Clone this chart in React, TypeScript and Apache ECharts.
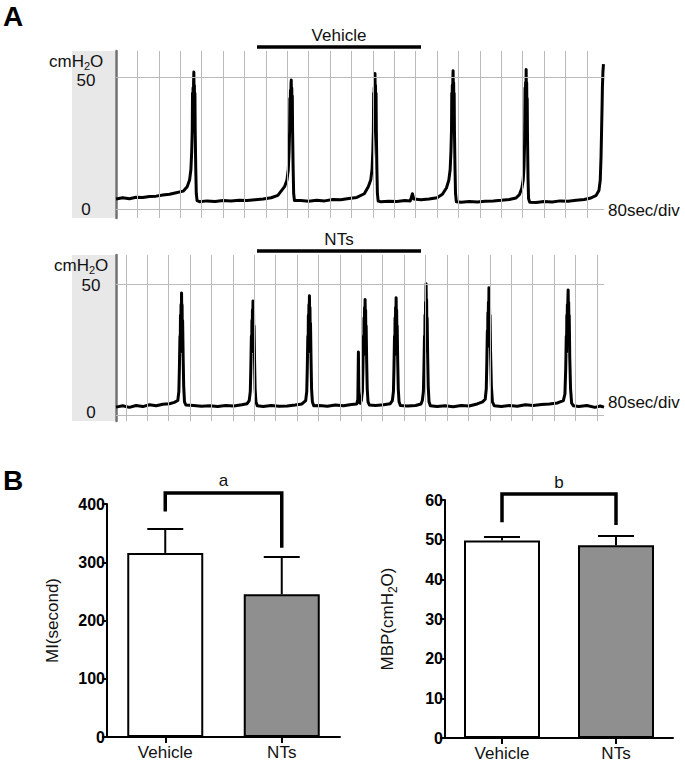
import React, { useEffect, useRef } from 'react';
import * as echarts from 'echarts';

const FONT = '"Liberation Sans", Arial, Helvetica, sans-serif';

// ---------- Panel A: cystometry traces (time in s, pressure in cmH2O) ----------
const vehicleTrace: [number, number][] = [
  [0, 3.8], [25, 4.3], [50, 3.9], [75, 4.5], [100, 4.4], [125, 4.8], [150, 4.9], [175, 5.3], [200, 5.6], [225, 6.2], [251, 6.8], [266, 8.5], [275, 11], [280, 15], [283, 22], [285, 30], [286, 44], [287, 32], [288, 46], [289, 35], [290, 48], [291, 52], [292, 42], [293, 47], [294, 36], [295, 44], [296, 30], [298, 16], [300, 6], [303, 3.2], [312, 2.8],
  [340, 3.1], [370, 2.9], [400, 3.2], [430, 3.1], [460, 3.3], [490, 3.2], [520, 3.5], [550, 3.8], [580, 4.3], [605, 5.2], [615, 6.5], [630, 8.5], [639, 11], [644, 15], [647, 22], [649, 30], [650, 42], [651, 32], [652, 45], [653, 35], [654, 47], [655, 49], [656, 41], [657, 46], [658, 35], [659, 43], [660, 30], [662, 16], [664, 6], [667, 3.2],
  [690, 3.2], [720, 3], [750, 3.3], [780, 3.1], [810, 3.6], [840, 3.5], [870, 4], [900, 4.4], [928, 5.8], [943, 8.5], [952, 11], [957, 15], [960, 22], [962, 30], [963, 44], [964, 32], [965, 46], [966, 35], [967, 48], [968, 51.5], [969, 42], [970, 47], [971, 36], [972, 44], [973, 30], [975, 16], [977, 6], [980, 3],
  [990, 2.8], [1020, 3], [1050, 2.9], [1080, 3.2], [1100, 3.1], [1108, 5.8], [1113, 3.8], [1140, 3.5], [1170, 3.8], [1200, 4.3], [1220, 5.6], [1235, 8], [1244, 11], [1249, 15], [1252, 22], [1254, 30], [1255, 44], [1256, 33], [1257, 47], [1258, 36], [1259, 49], [1260, 52.5], [1261, 43], [1262, 48], [1263, 36], [1264, 44], [1265, 30], [1267, 16], [1269, 6], [1272, 2.8],
  [1290, 2.6], [1320, 2.9], [1350, 2.7], [1380, 3], [1410, 3.1], [1440, 3.3], [1470, 3.6], [1495, 4.2], [1508, 5.5], [1517, 8], [1522, 11], [1525, 16], [1527, 24], [1528, 34], [1529, 46], [1530, 35], [1531, 48], [1532, 38], [1533, 53], [1534, 43], [1535, 48], [1536, 36], [1537, 42], [1538, 28], [1540, 12], [1542, 4], [1546, 2.6],
  [1570, 2.5], [1600, 2.9], [1630, 2.7], [1660, 3.1], [1690, 3], [1720, 3.3], [1750, 3.6], [1775, 4.2], [1795, 5.2], [1805, 7], [1810, 11], [1813, 20], [1815, 30], [1817, 40], [1818, 46], [1820, 52], [1822, 55],
];

const ntsTrace: [number, number][] = [
  [0, 3], [25, 3.5], [50, 2.9], [75, 3.6], [100, 3.2], [125, 3.9], [150, 3.5], [175, 4.1], [200, 4.3], [218, 4.8], [231, 5.5], [235, 9], [237, 18], [239, 30], [240, 24], [241, 38], [242, 28], [243, 42], [244, 34], [245, 46.5], [246, 38], [247, 42], [248, 30], [249, 36], [251, 22], [253, 11], [256, 5], [261, 3.8],
  [290, 3.6], [320, 3.3], [350, 3.5], [380, 3.2], [410, 3.6], [440, 3.4], [470, 3.9], [490, 4.3], [498, 5.5], [502, 9], [504, 18], [506, 30], [507, 24], [508, 36], [509, 28], [510, 40], [511, 33], [512, 43.5], [513, 36], [514, 40], [515, 29], [516, 34], [518, 20], [520, 10], [523, 5], [528, 3.5],
  [550, 3.2], [580, 3.6], [610, 3.3], [640, 3.4], [670, 3.8], [695, 4.2], [709, 5.5], [713, 9], [715, 18], [717, 30], [718, 24], [719, 38], [720, 28], [721, 42], [722, 34], [723, 45.5], [724, 37], [725, 41], [726, 29], [727, 35], [729, 21], [731, 10], [734, 5], [739, 3.5],
  [760, 3.6], [790, 3.3], [820, 3.8], [850, 3.5], [880, 4], [900, 4.2], [904, 6], [906, 24], [908, 5], [913, 4.5], [917, 5.5], [921, 9], [923, 18], [925, 30], [926, 23], [927, 37], [928, 28], [929, 41], [930, 33], [931, 44], [932, 36], [933, 40], [934, 28], [935, 34], [937, 20], [939, 10], [942, 5], [947, 3.8],
  [970, 3.6], [1000, 3.9], [1025, 4.3], [1033, 5.5], [1037, 9], [1039, 18], [1041, 30], [1042, 23], [1043, 37], [1044, 28], [1045, 41], [1046, 34], [1047, 44.7], [1048, 36], [1049, 40], [1050, 28], [1051, 34], [1053, 20], [1055, 10], [1058, 5], [1063, 3.6],
  [1090, 3.4], [1120, 3.6], [1140, 4.2], [1145, 5.5], [1149, 9], [1151, 18], [1153, 30], [1154, 24], [1155, 38], [1156, 30], [1157, 43], [1158, 36], [1159, 50], [1160, 40], [1161, 44], [1162, 31], [1163, 37], [1165, 22], [1167, 11], [1170, 5], [1175, 3.5],
  [1200, 3.2], [1230, 3.5], [1260, 3.1], [1290, 3.6], [1320, 3.4], [1350, 4.2], [1370, 5], [1380, 6], [1384, 10], [1386, 20], [1388, 32], [1389, 26], [1390, 39], [1391, 30], [1392, 43], [1393, 36], [1394, 48.5], [1395, 40], [1396, 43], [1397, 32], [1398, 38], [1400, 24], [1403, 11], [1407, 5], [1414, 3.5],
  [1440, 3.2], [1470, 3.6], [1500, 3.3], [1530, 3.9], [1560, 3.6], [1590, 4], [1620, 4.2], [1650, 4.6], [1672, 5.5], [1678, 8], [1681, 18], [1683, 30], [1684, 24], [1685, 38], [1686, 30], [1687, 42], [1688, 36], [1689, 44], [1690, 47.7], [1691, 40], [1692, 43], [1693, 32], [1694, 38], [1696, 22], [1699, 10], [1703, 4.5], [1710, 3.5],
  [1730, 3.2], [1760, 3.6], [1790, 2.9], [1810, 3.4], [1824, 3],
];

const traceDivisionOffset = [0, 37]; // s, first vertical division of each trace
const divisionSec = 80;
const traceDuration = 1824;
const pressureTicks = [0, 50];
const treatmentLabels = ['Vehicle', 'NTs'];
const treatmentSpan = [527, 1140]; // s

// ---------- Panel B: bar charts ----------
const barCategories = ['Vehicle', 'NTs'];
const miMean = [316, 245];
const miErrTop = [357, 309];
const mbpMean = [49.8, 48.6];
const mbpErrTop = [50.7, 50.9];
const miBracket = [387, 419, 325]; // left leg end, top, right leg end
const mbpBracket = [54.4, 61.5, 53.7];
const sigLabels = ['a', 'b'];
const barFills = ['#ffffff', '#8f8f8f'];

const TRACE_GRIDS = [
  { left: 116, top: 51, width: 488, height: 167, yMin: -3.4, yMax: 60, labelX: 86, labelDy: [0.5, 2.8], unitX: 49, divLabelY: 210 },
  { left: 116, top: 255, width: 488, height: 166, yMin: -2.3, yMax: 61, labelX: 91, labelDy: [-2, 1.5], unitX: 54, divLabelY: 402 },
];

function divisionTimes(offset: number): number[] {
  const out: number[] = [];
  for (let t = offset; t <= 1800; t += divisionSec) if (t > 0) out.push(t);
  return out;
}

export default function App() {
  const ref = useRef<HTMLDivElement>(null);

  useEffect(() => {
    if (!ref.current) return;
    const chart = echarts.init(ref.current, undefined, { renderer: 'svg' });

    const traces = [vehicleTrace, ntsTrace];

    const errorRender = (params: any, api: any) => {
      const base = api.coord([api.value(0), api.value(1)]);
      const top = api.coord([api.value(0), api.value(2)]);
      return {
        type: 'group',
        children: [
          { type: 'line', shape: { x1: base[0], y1: base[1], x2: top[0], y2: top[1] }, style: { stroke: '#000', lineWidth: 2 } },
          { type: 'line', shape: { x1: top[0] - 18, y1: top[1], x2: top[0] + 18, y2: top[1] }, style: { stroke: '#000', lineWidth: 2 } },
        ],
      };
    };
    const bracketRender = (label: string) => (params: any, api: any) => {
      const l = api.coord([0, api.value(1)]);
      const tl = api.coord([0, api.value(2)]);
      const tr = api.coord([1, api.value(2)]);
      const r = api.coord([1, api.value(3)]);
      return {
        type: 'group',
        children: [
          {
            type: 'polyline',
            shape: { points: [l, tl, tr, r] },
            style: { stroke: '#000', lineWidth: 3.5, fill: 'none', lineJoin: 'miter' },
          },
          {
            type: 'text',
            x: (tl[0] + tr[0]) / 2,
            y: tl[1] - 12,
            style: { text: label, fill: '#111', fontSize: 17, fontFamily: FONT, align: 'center', verticalAlign: 'middle' },
          },
        ],
      };
    };

    const barXAxis = (gridIndex: number) => ({
      gridIndex,
      type: 'category',
      data: barCategories,
      axisLine: { show: true, lineStyle: { color: '#000', width: 2 } },
      axisTick: { show: true, alignWithLabel: true, length: 6, lineStyle: { color: '#000', width: 2 } },
      axisLabel: { fontSize: 17, color: '#111', margin: 7, fontFamily: FONT },
      splitLine: { show: false },
    });
    const barYAxis = (gridIndex: number, max: number, interval: number, name: string, rich?: any) => ({
      gridIndex,
      type: 'value',
      min: 0,
      max,
      interval,
      axisLine: { show: true, onZero: false, lineStyle: { color: '#000', width: 2 } },
      axisTick: { show: true, length: 5, lineStyle: { color: '#000', width: 2 } },
      axisLabel: { fontSize: 16, fontWeight: 'bold', color: '#000', margin: 2, fontFamily: FONT },
      splitLine: { show: false },
      name,
      nameLocation: 'middle',
      nameGap: 46,
      nameMoveOverlap: false,
      nameTextStyle: { fontSize: 17, color: '#111', fontFamily: FONT, ...(rich ? { rich } : {}) },
    });

    const option: any = {
      animation: false,
      backgroundColor: '#fff',
      textStyle: { fontFamily: FONT },
      grid: [
        ...TRACE_GRIDS.map((g) => ({ left: g.left, top: g.top, width: g.width, height: g.height, outerBoundsMode: 'none' })),
        { left: 107, top: 504, width: 233, height: 233, outerBoundsMode: 'none' },
        { left: 445, top: 500, width: 228, height: 238, outerBoundsMode: 'none' },
      ],
      xAxis: [
        ...TRACE_GRIDS.map((g, i) => ({ gridIndex: i, type: 'value', min: 0, max: traceDuration, show: false, splitLine: { show: false } })),
        barXAxis(2),
        barXAxis(3),
      ],
      yAxis: [
        ...TRACE_GRIDS.map((g, i) => ({
          gridIndex: i,
          type: 'value',
          min: g.yMin,
          max: g.yMax,
          axisLine: { show: true, onZero: false, lineStyle: { color: '#707070', width: 2.5 } },
          axisTick: { show: false },
          splitLine: { show: false },
          axisLabel: { show: false },
        })),
        barYAxis(2, 400, 100, 'MI(second)'),
        barYAxis(3, 60, 10, '{a|MBP(cmH}{s|2}{a|O)}', {
          a: { fontSize: 17, fontFamily: FONT, color: '#111' },
          s: { fontSize: 12, fontFamily: FONT, color: '#111', padding: [12, 0, 0, 0] },
        }),
      ],
      series: [
        ...TRACE_GRIDS.map((g, i) => ({
          type: 'line',
          xAxisIndex: i,
          yAxisIndex: i,
          data: [],
          z: 1,
          silent: true,
          markLine: {
            silent: true,
            symbol: ['none', 'none'],
            label: { show: false },
            lineStyle: { color: '#bababa', width: 1, type: 'solid' },
            emphasis: { disabled: true },
            data: [
              ...divisionTimes(traceDivisionOffset[i]).map((t) => ({ xAxis: t })),
              ...pressureTicks.map((p) => ({ yAxis: p })),
            ],
          },
        })),
        ...traces.map((d, i) => ({
          type: 'line',
          xAxisIndex: i,
          yAxisIndex: i,
          data: d,
          showSymbol: false,
          symbol: 'none',
          z: 3,
          silent: true,
          lineStyle: { color: '#000', width: 3, join: 'round' },
        })),
        {
          type: 'bar',
          xAxisIndex: 2,
          yAxisIndex: 2,
          barWidth: 76,
          data: miMean.map((v, i) => ({ value: v, itemStyle: { color: barFills[i] } })),
          itemStyle: { borderColor: '#000', borderWidth: 2 },
          silent: true,
        },
        {
          type: 'bar',
          xAxisIndex: 3,
          yAxisIndex: 3,
          barWidth: 76,
          data: mbpMean.map((v, i) => ({ value: v, itemStyle: { color: barFills[i] } })),
          itemStyle: { borderColor: '#000', borderWidth: 2 },
          silent: true,
        },
        {
          type: 'custom',
          xAxisIndex: 2,
          yAxisIndex: 2,
          data: miMean.map((m, i) => [i, m, miErrTop[i]]),
          renderItem: errorRender,
          z: 4,
          silent: true,
        },
        {
          type: 'custom',
          xAxisIndex: 3,
          yAxisIndex: 3,
          data: mbpMean.map((m, i) => [i, m, mbpErrTop[i]]),
          renderItem: errorRender,
          z: 4,
          silent: true,
        },
        {
          type: 'custom',
          xAxisIndex: 2,
          yAxisIndex: 2,
          clip: false,
          data: [[0, ...miBracket]],
          renderItem: bracketRender(sigLabels[0]),
          z: 4,
          silent: true,
        },
        {
          type: 'custom',
          xAxisIndex: 3,
          yAxisIndex: 3,
          clip: false,
          data: [[0, ...mbpBracket]],
          renderItem: bracketRender(sigLabels[1]),
          z: 4,
          silent: true,
        },
      ],
    };

    chart.setOption(option);

    // Annotations positioned through the axes' scales
    const graphics: any[] = [
      { type: 'text', x: 3, y: 2, style: { text: 'A', fontSize: 28, fontWeight: 'bold', fontFamily: FONT, fill: '#000' } },
      { type: 'text', x: 3, y: 466, style: { text: 'B', fontSize: 28, fontWeight: 'bold', fontFamily: FONT, fill: '#000' } },
    ];
    const txt = (text: string, x: number, y: number, fontSize: number, align: string) => ({
      type: 'text',
      x,
      y,
      style: { text, fontSize, fontFamily: FONT, fill: '#111', align, verticalAlign: 'middle' },
    });
    TRACE_GRIDS.forEach((g, i) => {
      graphics.push({
        type: 'rect',
        z: -10,
        shape: { x: 72, y: g.top, width: g.left - 73, height: g.height },
        style: { fill: '#e8e8e8' },
      });
      const topY = chart.convertToPixel({ yAxisIndex: i }, g.yMax) as number;
      // unit label cmH2O (subscript 2)
      graphics.push(txt('cmH', g.unitX, topY + 10.5, 17, 'left'));
      graphics.push(txt('2', g.unitX + 35, topY + 15, 11, 'left'));
      graphics.push(txt('O', g.unitX + 41, topY + 10.5, 17, 'left'));
      // pressure tick labels
      pressureTicks.forEach((p, k) => {
        const py = chart.convertToPixel({ yAxisIndex: i }, p) as number;
        graphics.push(txt(String(p), g.labelX, py + g.labelDy[k], 17, 'center'));
      });
      graphics.push(txt('80sec/div', 608, g.divLabelY, 17, 'left'));
      const x0 = chart.convertToPixel({ xAxisIndex: i }, treatmentSpan[0]) as number;
      const x1 = chart.convertToPixel({ xAxisIndex: i }, treatmentSpan[1]) as number;
      graphics.push({
        type: 'line',
        shape: { x1: x0, y1: topY - 4, x2: x1, y2: topY - 4 },
        style: { stroke: '#000', lineWidth: 3.5 },
      });
      graphics.push(txt(treatmentLabels[i], (x0 + x1) / 2, topY - 16, 17, 'center'));
    });
    chart.setOption({ graphic: graphics });

    return () => chart.dispose();
  }, []);

  return <div ref={ref} style={{ position: 'absolute', left: 0, top: 0, width: 685, height: 768 }} />;
}
